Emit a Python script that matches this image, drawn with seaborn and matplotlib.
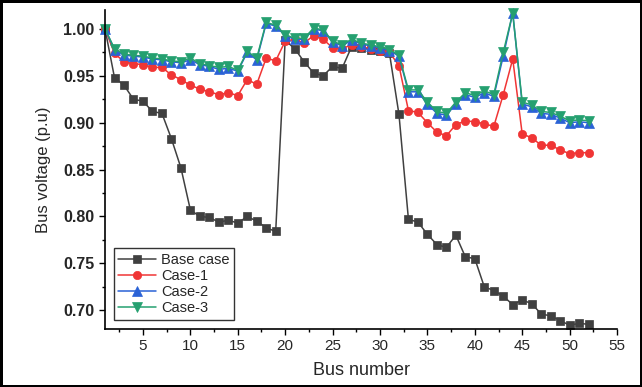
import numpy as np
import pandas as pd
import seaborn as sns
import matplotlib.pyplot as plt
from matplotlib.ticker import AutoMinorLocator, FormatStrFormatter

# Dados
bus = np.arange(1, 53)

base_case = [1.000, 0.948, 0.940, 0.925, 0.923, 0.912, 0.910, 0.883, 0.852, 0.807,
             0.800, 0.799, 0.794, 0.796, 0.793, 0.800, 0.795, 0.788, 0.784, 0.988,
             0.979, 0.965, 0.953, 0.950, 0.960, 0.958, 0.981, 0.980, 0.978, 0.976,
             0.974, 0.909, 0.797, 0.794, 0.781, 0.770, 0.767, 0.780, 0.757, 0.755,
             0.725, 0.721, 0.715, 0.706, 0.711, 0.707, 0.696, 0.694, 0.689, 0.684,
             0.686, 0.685]

case_1 = [1.000, 0.974, 0.965, 0.963, 0.962, 0.959, 0.959, 0.951, 0.946, 0.940,
          0.936, 0.933, 0.930, 0.932, 0.929, 0.946, 0.941, 0.969, 0.966, 0.987,
          0.989, 0.985, 0.993, 0.989, 0.980, 0.979, 0.983, 0.981, 0.979, 0.977,
          0.975, 0.961, 0.913, 0.911, 0.900, 0.890, 0.886, 0.898, 0.902, 0.901,
          0.899, 0.896, 0.930, 0.968, 0.888, 0.884, 0.876, 0.876, 0.871, 0.867,
          0.868, 0.868]

case_2 = [1.000, 0.978, 0.972, 0.971, 0.970, 0.968, 0.967, 0.965, 0.964, 0.967,
          0.962, 0.960, 0.957, 0.958, 0.955, 0.975, 0.967, 1.006, 1.003, 0.993,
          0.989, 0.989, 1.000, 0.998, 0.986, 0.982, 0.988, 0.984, 0.982, 0.980,
          0.977, 0.971, 0.933, 0.933, 0.920, 0.910, 0.908, 0.920, 0.930, 0.927,
          0.932, 0.928, 0.971, 1.017, 0.920, 0.917, 0.910, 0.909, 0.905, 0.900,
          0.901, 0.900]

case_3 = [1.000, 0.979, 0.973, 0.972, 0.971, 0.969, 0.968, 0.966, 0.965, 0.969,
          0.963, 0.961, 0.959, 0.960, 0.956, 0.976, 0.969, 1.007, 1.004, 0.994,
          0.990, 0.990, 1.001, 0.999, 0.987, 0.983, 0.989, 0.985, 0.983, 0.981,
          0.978, 0.972, 0.935, 0.935, 0.922, 0.912, 0.910, 0.922, 0.932, 0.929,
          0.934, 0.930, 0.975, 1.017, 0.922, 0.919, 0.912, 0.911, 0.907, 0.902,
          0.903, 0.902]

series = ["Base case", "Case-1", "Case-2", "Case-3"]
values = [base_case, case_1, case_2, case_3]
colors = ["#404040", "#f03535", "#2a62d6", "#25a070"]
markers = ["s", "o", "^", "v"]
msizes = [6, 6, 7, 7]

df = pd.DataFrame({"bus": bus})
for name, v in zip(series, values):
    df[name] = v

# Estilo
sns.set_theme(style="ticks")
plt.rcParams["font.family"] = ["Liberation Sans", "DejaVu Sans"]

fig = plt.figure(figsize=(6.42, 3.87), dpi=100)
ax = fig.add_axes([0.1636, 0.1499, 0.7975, 0.8237])

for name, c, m, ms in zip(series, colors, markers, msizes):
    sns.lineplot(data=df, x="bus", y=name, color=c, marker=m, markersize=ms,
                 markeredgecolor=c, markeredgewidth=0.5, linewidth=1.1,
                 label=name, ax=ax, clip_on=False)

# Eixos
ax.set_xlim(1, 55)
ax.set_ylim(0.68, 1.02)
ax.set_xticks(np.arange(5, 56, 5))
ax.set_yticks(np.arange(0.70, 1.001, 0.05))
ax.yaxis.set_major_formatter(FormatStrFormatter("%.2f"))
ax.xaxis.set_minor_locator(AutoMinorLocator(2))
ax.yaxis.set_minor_locator(AutoMinorLocator(2))
ax.tick_params(which="major", length=4, width=1, color="black")
ax.tick_params(which="minor", length=2.5, width=1, color="black")
ax.tick_params(axis="x", labelsize=11)
ax.tick_params(axis="y", labelsize=11.5)
for lab in ax.get_yticklabels():
    lab.set_fontweight("bold")

ax.set_xlabel("Bus number", fontsize=13, labelpad=6)
ax.set_ylabel("Bus voltage (p.u)", fontsize=12, labelpad=9)

for s in ["left", "bottom"]:
    ax.spines[s].set_color("black")
    ax.spines[s].set_linewidth(1.2)
ax.spines["top"].set_visible(False)
ax.spines["right"].set_visible(False)

# Legenda
leg = ax.legend(loc="lower left", bbox_to_anchor=(0.012, 0.02), fontsize=10.5,
                frameon=True, fancybox=False, handlelength=2.6, handletextpad=0.3,
                labelspacing=0.15, borderpad=0.3, borderaxespad=0.2)
leg.get_frame().set_edgecolor("black")
leg.get_frame().set_linewidth(1.0)

# Moldura externa
fig.patch.set_edgecolor("black")
fig.patch.set_linewidth(2.5)

fig.savefig("out.png", dpi=100, edgecolor=fig.get_edgecolor())
